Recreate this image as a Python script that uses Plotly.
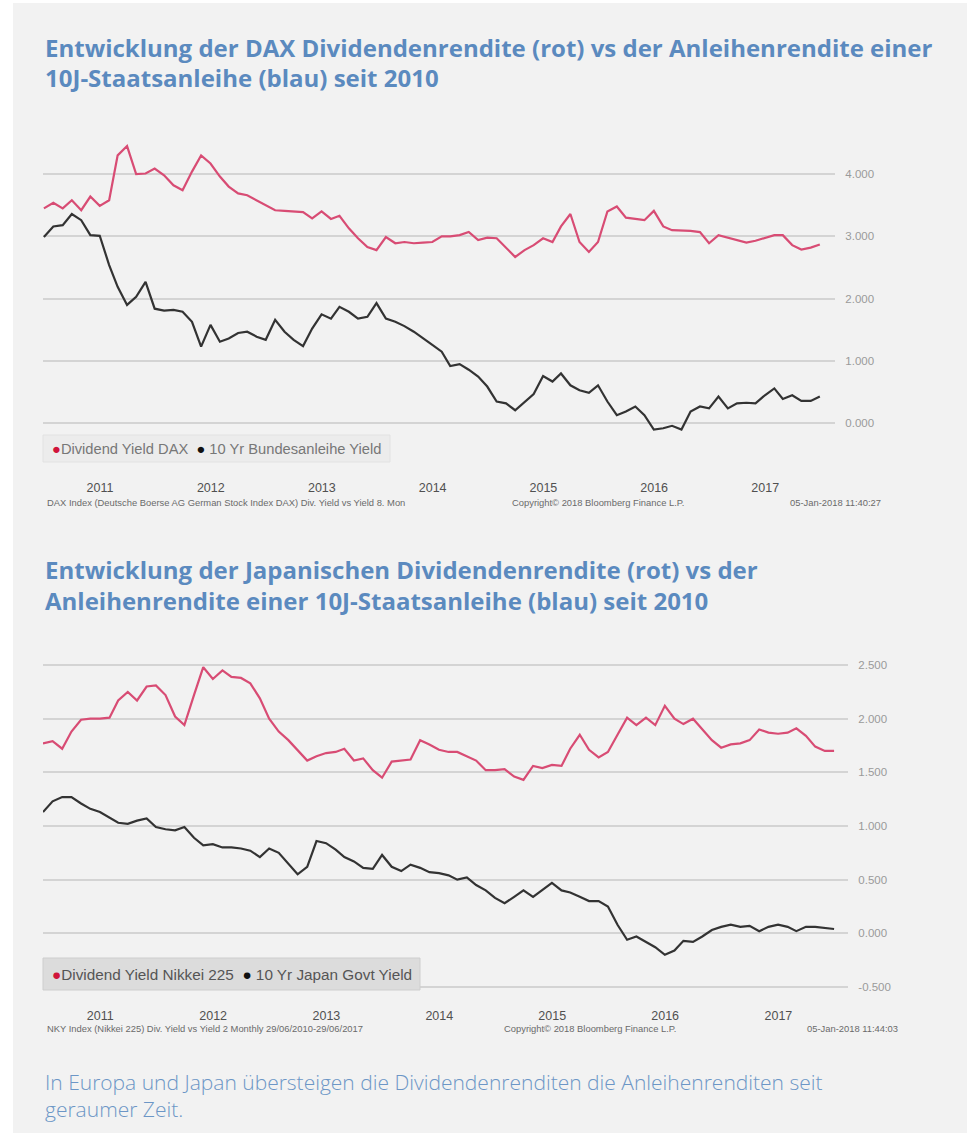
import plotly.graph_objects as go
import pandas as pd

W, H = 967, 1139

# ---------------- data ----------------
dates = pd.date_range("2010-06-30", periods=85, freq="ME").strftime("%Y-%m-%d").tolist()

dax_div_yield = [3.45, 3.54, 3.45, 3.58, 3.42, 3.64, 3.49, 3.58, 4.30, 4.45,
                 4.00, 4.01, 4.09, 3.98, 3.82, 3.74, 4.04, 4.30, 4.17, 3.96,
                 3.80, 3.69, 3.66, 3.58, 3.49, 3.42, 3.41, 3.40, 3.39, 3.29,
                 3.40, 3.28, 3.33, 3.13, 2.97, 2.83, 2.78, 2.99, 2.89, 2.91,
                 2.89, 2.90, 2.91, 3.00, 3.00, 3.02, 3.07, 2.94, 2.98, 2.97,
                 2.81, 2.67, 2.78, 2.86, 2.97, 2.91, 3.16, 3.36, 2.91, 2.75,
                 2.91, 3.40, 3.48, 3.30, 3.28, 3.26, 3.41, 3.16, 3.10, 3.10,
                 3.09, 3.07, 2.89, 3.02, 2.98, 2.93, 2.90, 2.93, 2.98, 3.02,
                 3.02, 2.86, 2.79, 2.82, 2.87]

bund_10y_yield = [2.99, 3.16, 3.18, 3.36, 3.26, 3.02, 3.01, 2.54, 2.19, 1.90,
                  2.03, 2.27, 1.84, 1.81, 1.82, 1.79, 1.63, 1.23, 1.58, 1.31,
                  1.36, 1.45, 1.47, 1.39, 1.34, 1.66, 1.47, 1.34, 1.24, 1.52,
                  1.75, 1.68, 1.87, 1.79, 1.68, 1.71, 1.93, 1.68, 1.63, 1.56,
                  1.47, 1.36, 1.26, 1.15, 0.92, 0.95, 0.86, 0.75, 0.59, 0.35,
                  0.32, 0.21, 0.35, 0.47, 0.76, 0.67, 0.80, 0.61, 0.53, 0.49,
                  0.61, 0.35, 0.13, 0.19, 0.27, 0.13, -0.10, -0.08, -0.04, -0.10,
                  0.19, 0.27, 0.24, 0.43, 0.24, 0.32, 0.33, 0.32, 0.45, 0.56,
                  0.39, 0.45, 0.36, 0.36, 0.43]

nikkei_div_yield = [1.77, 1.79, 1.72, 1.88, 1.99, 2.00, 2.00, 2.01, 2.17, 2.25,
                    2.17, 2.30, 2.31, 2.22, 2.02, 1.94, 2.22, 2.48, 2.37, 2.45,
                    2.39, 2.38, 2.33, 2.19, 2.00, 1.88, 1.80, 1.71, 1.61, 1.65,
                    1.68, 1.69, 1.72, 1.61, 1.63, 1.52, 1.45, 1.60, 1.61, 1.62,
                    1.80, 1.76, 1.71, 1.69, 1.69, 1.65, 1.61, 1.52, 1.52, 1.53,
                    1.46, 1.43, 1.56, 1.54, 1.57, 1.56, 1.72, 1.85, 1.71, 1.64,
                    1.69, 1.85, 2.01, 1.94, 2.01, 1.94, 2.12, 2.00, 1.95, 2.00,
                    1.90, 1.80, 1.73, 1.76, 1.77, 1.80, 1.90, 1.87, 1.86, 1.87,
                    1.91, 1.84, 1.74, 1.70, 1.70]

jgb_10y_yield = [1.13, 1.23, 1.27, 1.27, 1.21, 1.16, 1.13, 1.08, 1.03, 1.02,
                 1.05, 1.07, 0.99, 0.97, 0.96, 0.99, 0.89, 0.82, 0.83, 0.80,
                 0.80, 0.79, 0.77, 0.71, 0.79, 0.75, 0.65, 0.55, 0.62, 0.86,
                 0.84, 0.78, 0.71, 0.67, 0.61, 0.60, 0.73, 0.62, 0.58, 0.64,
                 0.61, 0.57, 0.56, 0.54, 0.50, 0.52, 0.45, 0.40, 0.33, 0.28,
                 0.34, 0.40, 0.34, 0.40, 0.47, 0.40, 0.38, 0.34, 0.30, 0.30,
                 0.25, 0.08, -0.06, -0.03, -0.08, -0.13, -0.20, -0.16, -0.07, -0.08,
                 -0.03, 0.03, 0.06, 0.08, 0.06, 0.07, 0.02, 0.06, 0.08, 0.06,
                 0.02, 0.06, 0.06, 0.05, 0.04]

year_ticks = ["2011-01-01", "2012-01-01", "2013-01-01", "2014-01-01",
              "2015-01-01", "2016-01-01", "2017-01-01"]
year_labels = ["2011", "2012", "2013", "2014", "2015", "2016", "2017"]

y1_ticks = [0, 1, 2, 3, 4]
y1_labels = ["0.000", "1.000", "2.000", "3.000", "4.000"]
y2_ticks = [-0.5, 0, 0.5, 1.0, 1.5, 2.0, 2.5]
y2_labels = ["-0.500", "0.000", "0.500", "1.000", "1.500", "2.000", "2.500"]

# ---------------- style ----------------
RED = "#d84c74"
BLACK = "#333333"
TITLE_BLUE = "#5b8abf"
CAPTION_BLUE = "#6c96c6"
PANEL = "#f2f2f2"
GRID = "#d4d4d4"
CHART_FONT = "Liberation Sans, Arial, sans-serif"
TITLE_FONT = "Open Sans, Roboto, sans-serif"


def fx(p):
    return p / W


def fy(p):
    return 1 - p / H


fig = go.Figure()

fig.add_trace(go.Scatter(x=dates, y=dax_div_yield, mode="lines", name="Dividend Yield DAX",
                         line=dict(color=RED, width=2.2), xaxis="x", yaxis="y", showlegend=False))
fig.add_trace(go.Scatter(x=dates, y=bund_10y_yield, mode="lines", name="10 Yr Bundesanleihe Yield",
                         line=dict(color=BLACK, width=2.2), xaxis="x", yaxis="y", showlegend=False))
fig.add_trace(go.Scatter(x=dates, y=nikkei_div_yield, mode="lines", name="Dividend Yield Nikkei 225",
                         line=dict(color=RED, width=2.2), xaxis="x2", yaxis="y2", showlegend=False))
fig.add_trace(go.Scatter(x=dates, y=jgb_10y_yield, mode="lines", name="10 Yr Japan Govt Yield",
                         line=dict(color=BLACK, width=2.2), xaxis="x2", yaxis="y2", showlegend=False))

# pixel geometry for the two chart panels
c1_left, c1_right, c1_top, c1_bottom = 43, 835, 140, 478
c2_left, c2_right, c2_top, c2_bottom = 43, 848, 655, 1006

# value scales (derived from reference gridline positions)
c1_zero, c1_unit = 423.3, 62.3
c2_zero, c2_unit = 933.3, 107.3

xaxis_common = dict(type="date", tickmode="array", tickvals=year_ticks, ticktext=year_labels,
                    showgrid=False, zeroline=False, showline=False, ticks="",
                    tickfont=dict(family=CHART_FONT, size=12.5, color="#505050"))
yaxis_common = dict(side="right", showgrid=True, gridcolor=GRID, gridwidth=2, zeroline=False,
                    showline=False, ticks="outside", ticklen=7, tickcolor="rgba(0,0,0,0)",
                    tickfont=dict(family=CHART_FONT, size=11.5, color="#9a9a9a"))

fig.update_layout(
    width=W, height=H,
    margin=dict(l=0, r=0, t=0, b=0),
    paper_bgcolor="white",
    plot_bgcolor="rgba(0,0,0,0)",
    xaxis=dict(domain=[fx(c1_left), fx(c1_right)], range=["2010-06-27", "2017-08-19"],
               anchor="y", **xaxis_common),
    yaxis=dict(domain=[fy(c1_bottom), fy(c1_top)],
               range=[(c1_zero - c1_bottom) / c1_unit, (c1_zero - c1_top) / c1_unit],
               tickvals=y1_ticks, ticktext=y1_labels, anchor="x", **yaxis_common),
    xaxis2=dict(domain=[fx(c2_left), fx(c2_right)], range=["2010-06-30", "2017-08-14"],
                anchor="y2", **xaxis_common),
    yaxis2=dict(domain=[fy(c2_bottom), fy(c2_top)],
                range=[(c2_zero - c2_bottom) / c2_unit, (c2_zero - c2_top) / c2_unit],
                tickvals=y2_ticks, ticktext=y2_labels, anchor="x2", **yaxis_common),
)

shapes = [
    # grey background panel
    dict(type="rect", xref="paper", yref="paper", x0=fx(13), x1=1, y0=fy(1133), y1=fy(3),
         fillcolor=PANEL, line=dict(width=0), layer="below"),
    # legend boxes
    dict(type="rect", xref="paper", yref="paper", x0=fx(43), x1=fx(390), y0=fy(462), y1=fy(435),
         fillcolor="#ececec", line=dict(color="#e2e2e2", width=1), layer="above"),
    dict(type="rect", xref="paper", yref="paper", x0=fx(43), x1=fx(420), y0=fy(990), y1=fy(958),
         fillcolor="#dcdcdc", line=dict(color="#cecece", width=1), layer="above"),
]
fig.update_layout(shapes=shapes)

ann = []


def text(x, y, s, size, color, family, xanchor="left", bold=False, weight=None):
    f = dict(size=size, color=color, family=family)
    if weight is not None:
        f["weight"] = weight
    elif bold:
        f["weight"] = "bold"
    ann.append(dict(x=fx(x), y=fy(y), xref="paper", yref="paper", text=s, showarrow=False,
                    xanchor=xanchor, yanchor="middle", align="left", font=f))


TITLE_SIZE = 24
text(43, 47, "Entwicklung der DAX Dividendenrendite (rot) vs der Anleihenrendite einer",
     TITLE_SIZE, TITLE_BLUE, TITLE_FONT, bold=True)
text(43, 78, "10J-Staatsanleihe (blau) seit 2010", TITLE_SIZE, TITLE_BLUE, TITLE_FONT, bold=True)
text(43, 569, "Entwicklung der Japanischen Dividendenrendite (rot) vs der",
     TITLE_SIZE, TITLE_BLUE, TITLE_FONT, bold=True)
text(43, 600, "Anleihenrendite einer 10J-Staatsanleihe (blau) seit 2010",
     TITLE_SIZE, TITLE_BLUE, TITLE_FONT, bold=True)

# caption as one two-line text block
text(43, 1095, "In Europa und Japan übersteigen die Dividendenrenditen die Anleihenrenditen seit"
               "<br>geraumer Zeit.",
     21, CAPTION_BLUE, TITLE_FONT, weight=300)

# legends
text(50, 449, '<span style="color:#d0143a">●</span>Dividend Yield DAX  '
              '<span style="color:#111111">●</span> 10 Yr Bundesanleihe Yield',
     14.7, "#777777", CHART_FONT)
text(50, 974, '<span style="color:#d0143a">●</span>Dividend Yield Nikkei 225  '
              '<span style="color:#111111">●</span> 10 Yr Japan Govt Yield',
     15.3, "#555555", CHART_FONT)

# source notes
NOTE = "#6a6a6a"
text(45, 503, "DAX Index (Deutsche Boerse AG German Stock Index DAX) Div. Yield vs Yield 8. Mon",
     9.4, NOTE, CHART_FONT)
text(598, 503, "Copyright© 2018 Bloomberg Finance L.P.", 9.4, NOTE, CHART_FONT, xanchor="center")
text(883, 503, "05-Jan-2018 11:40:27", 9.4, NOTE, CHART_FONT, xanchor="right")

text(45, 1028, "NKY Index (Nikkei 225) Div. Yield vs Yield 2 Monthly 29/06/2010-29/06/2017",
     9.4, NOTE, CHART_FONT)
text(590, 1028, "Copyright© 2018 Bloomberg Finance L.P.", 9.4, NOTE, CHART_FONT, xanchor="center")
text(900, 1028, "05-Jan-2018 11:44:03", 9.4, NOTE, CHART_FONT, xanchor="right")

fig.update_layout(annotations=ann)

# remove the default page margin so the figure sits at the window origin
fig.write_html("out.html", config={"displayModeBar": False},
               post_script="document.body.style.margin='0px';")
